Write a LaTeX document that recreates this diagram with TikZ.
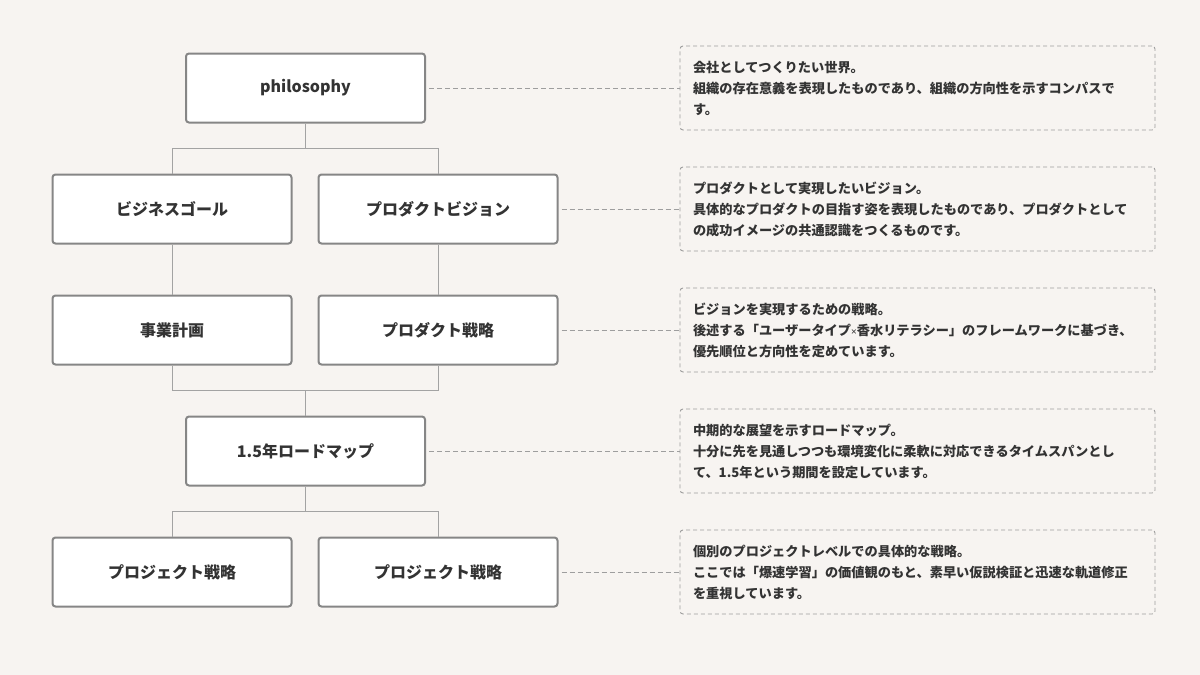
\documentclass[tikz,border=0pt]{standalone}
\usepackage{fontspec}
\setmainfont{Noto Sans CJK JP}
\newfontfamily\latinsans{Noto Sans}
\definecolor{bgcol}{HTML}{F7F4F1}
\definecolor{boxgray}{HTML}{868686}
\definecolor{linegray}{HTML}{A3A3A3}
\definecolor{dashgray}{HTML}{9E9E9E}
\definecolor{textdark}{HTML}{333333}
\begin{document}
\begin{tikzpicture}[x=1pt,y=-1pt,
  box/.style={draw=boxgray, line width=2pt, fill=white, rounded corners=3pt,
    minimum width=239pt, minimum height=69pt, inner sep=0pt,
    font=\fontsize{16}{16}\selectfont\bfseries, text=textdark},
  note/.style={draw=dashgray, line width=0.9pt, dash pattern=on 4pt off 3pt,
    rounded corners=3pt, minimum width=475pt, minimum height=84pt,
    text width=449pt, inner xsep=13pt, inner ysep=0pt, align=left,
    font=\fontsize{13.2}{21}\selectfont\bfseries, text=textdark},
  conn/.style={draw=linegray, line width=1pt},
  leader/.style={draw=dashgray, line width=0.9pt, dash pattern=on 5pt off 3pt, shorten <=3pt}
]
\fill[bgcol] (0,0) rectangle (1200,675);

% tree boxes
\node[box] (phil) at (305.5,88) {philosophy};
\node[box] (bg) at (172,209) {ビジネスゴール};
\node[box] (pv) at (438,209) {プロダクトビジョン};
\node[box] (bp) at (172,330) {事業計画};
\node[box] (ps) at (438,330) {プロダクト戦略};
\node[box] (rm) at (305.5,451) {1.5年ロードマップ};
\node[box] (pj1) at (172,572) {プロジェクト戦略};
\node[box] (pj2) at (438,572) {プロジェクト戦略};

% junctions
\coordinate (j1) at (305.5,148.5);
\coordinate (j2) at (305.5,390.5);
\coordinate (j3) at (305.5,511.5);

\draw[conn] (phil.south) -- (j1);
\draw[conn] (bg.north) |- (j1) -| (pv.north);
\draw[conn] (bg.south) -- (bp.north);
\draw[conn] (pv.south) -- (ps.north);
\draw[conn] (bp.south) |- (j2) -| (ps.south);
\draw[conn] (j2) -- (rm.north);
\draw[conn] (rm.south) -- (j3);
\draw[conn] (pj1.north) |- (j3) -| (pj2.north);

% notes
\node[note] (n1) at (917.5,88) {会社としてつくりたい世界。\\組織の存在意義を表現したものであり、組織の方向性を示すコンパスで\\す。};
\node[note] (n2) at (917.5,209) {プロダクトとして実現したいビジョン。\\具体的なプロダクトの目指す姿を表現したものであり、プロダクトとして\\の成功イメージの共通認識をつくるものです。};
\node[note] (n3) at (917.5,330) {ビジョンを実現するための戦略。\\後述する「ユーザータイプ{\latinsans\fontsize{10}{10}\selectfont ×}香水リテラシー」のフレームワークに基づき、\\優先順位と方向性を定めています。};
\node[note] (n4) at (917.5,451) {中期的な展望を示すロードマップ。\\十分に先を見通しつつも環境変化に柔軟に対応できるタイムスパンとし\\て、1.5年という期間を設定しています。};
\node[note] (n5) at (917.5,572) {個別のプロジェクトレベルでの具体的な戦略。\\ここでは「爆速学習」の価値観のもと、素早い仮説検証と迅速な軌道修正\\を重視しています。};

% leaders
\draw[leader] (phil.east) -- (n1.west);
\draw[leader] (pv.east) -- (n2.west);
\draw[leader] (ps.east) -- (n3.west);
\draw[leader] (rm.east) -- (n4.west);
\draw[leader] (pj2.east) -- (n5.west);
\end{tikzpicture}
\end{document}
